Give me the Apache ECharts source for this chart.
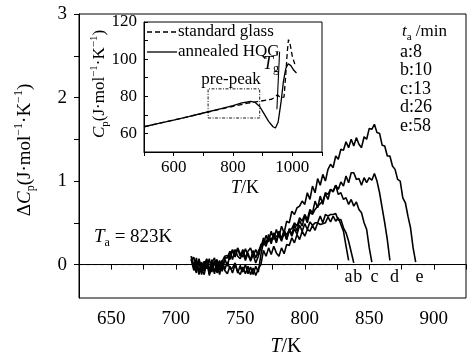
<!DOCTYPE html>
<html><head><meta charset="utf-8">
<script src="https://cdn.jsdelivr.net/npm/echarts@6.0.0/dist/echarts.min.js"></script>
<style>html,body{margin:0;padding:0;background:#fff}#c{width:472px;height:356px}</style>
</head><body><div id="c"></div>
<script>
// ---- main chart data: temperature grid (K) and ΔCp curves (J/mol/K)
const temps = [712,714,716,718,720,722,724,726,728,730,
732,734,736,738,740,742,744,746,748,750,
752,754,756,758,760,762,764,766,768,770,
772,774,776,778,780,782,784,786,788,790,
792,794,796,798,800,802,804,806,808,810,
812,814,816,818,820,822,824,826,828,830,
832,834,836,838,840,842,844,846,848,850,
852,854,856,858,860,862,864,866,868,870,
872,874,876,878,880,882,884,886];
const curveA = [0.1,-0.02,-0.1,0.07,-0.05,-0.12,0.02,-0.08,0.06,-0.09,
0.0,-0.12,0.02,-0.07,-0.11,-0.02,-0.1,0.0,-0.08,-0.12,
-0.03,-0.11,-0.02,-0.12,-0.04,-0.13,-0.05,0.0,0.17,0.1,
0.2,0.12,0.22,0.14,0.1,0.2,0.13,0.24,0.23,0.32,
0.26,0.36,0.3,0.4,0.34,0.42,0.4,0.47,0.41,0.5,
0.48,0.49,0.5,0.57,0.51,0.58,0.52,0.56,0.48,0.4,
0.22,0.05];
const curveB = [0.06,-0.07,0.04,-0.12,0.02,-0.08,0.05,-0.13,-0.02,0.04,
-0.1,0.0,0.05,-0.06,0.03,-0.05,-0.04,0.02,-0.1,-0.01,
-0.09,0.0,-0.11,-0.03,-0.12,-0.02,-0.09,0.12,0.27,0.28,
0.3,0.31,0.33,0.34,0.35,0.28,0.38,0.3,0.41,0.34,
0.43,0.36,0.47,0.4,0.49,0.42,0.51,0.47,0.5,0.5,
0.58,0.5,0.6,0.58,0.6,0.6,0.61,0.53,0.54,0.44,
0.38,0.28,0.15,0.02];
const curveC = [0.04,0.09,-0.06,0.05,-0.1,-0.01,0.07,-0.07,0.04,-0.11,
0.05,-0.02,-0.07,0.08,0.08,0.16,0.06,0.18,0.1,0.07,
0.15,0.05,0.14,0.04,0.12,0.02,0.1,0.2,0.32,0.24,
0.36,0.25,0.38,0.28,0.4,0.31,0.4,0.3,0.43,0.36,
0.48,0.4,0.53,0.46,0.58,0.5,0.63,0.6,0.66,0.7,
0.73,0.76,0.85,0.78,0.9,0.87,0.95,0.84,0.86,0.78,
0.8,0.72,0.78,0.7,0.75,0.66,0.62,0.5,0.42,0.2,
0.03];
const curveD = [0.1,-0.02,-0.08,0.06,-0.12,0.04,-0.05,0.07,-0.09,0.02,
0.06,-0.07,0.04,0.1,0.11,0.06,0.17,0.09,0.19,0.1,
0.18,0.08,0.16,0.2,0.1,0.18,0.11,0.24,0.26,0.22,
0.33,0.28,0.35,0.26,0.38,0.3,0.41,0.35,0.42,0.43,
0.5,0.46,0.56,0.52,0.6,0.54,0.66,0.62,0.76,0.68,
0.82,0.72,0.86,0.84,0.9,0.88,0.95,0.9,0.99,0.94,
1.06,0.98,1.1,1.1,1.02,1.03,0.95,1.04,0.98,1.04,
1.01,1.09,1.0,0.86,0.68,0.5,0.3,0.05];
const curveE = [0.07,-0.04,0.08,-0.09,0.03,-0.07,0.06,-0.11,0.02,0.08,
-0.06,0.05,-0.08,0.07,-0.02,0.12,0.18,0.1,0.2,0.13,
0.09,0.19,0.11,0.06,0.17,0.08,0.16,0.22,0.24,0.35,
0.27,0.4,0.3,0.42,0.33,0.46,0.38,0.52,0.5,0.64,
0.6,0.68,0.7,0.76,0.72,0.86,0.78,0.94,0.86,1.03,
0.95,1.08,1.0,1.14,1.2,1.16,1.3,1.26,1.38,1.37,
1.47,1.4,1.5,1.42,1.52,1.44,1.4,1.53,1.5,1.63,
1.62,1.68,1.58,1.57,1.43,1.42,1.3,1.3,1.18,1.14,
1.02,1.0,0.8,0.74,0.58,0.44,0.2,0.03];
const curveNames = ['a','b','c','d','e'];
const annealMinutes = [8,10,13,26,58];
const curveLabelT = [834,841,854,869.5,889];
const curveLabelV = -0.155;
const zeroLineT = [625,904];
const mainXTicks = [650,700,750,800,850,900];
const mainYLabels = [0,1,2,3];
const mainYTicks = [0,0.5,1,1.5,2,2.5,3];

// ---- inset data: Cp (J/mol/K) vs T (K)
const stdT = [500,550,600,650,700,750,800,850,900,930,940,950,960,972,978,983,987,992,1000,1008,1014];
const stdV = [63.6,65.4,67.2,69.0,70.9,72.8,74.6,76.3,77.6,78.4,79.4,80.8,79.2,79.6,92,104,110.5,108.5,101.5,97.5,98.5];
const annT = [500,550,600,650,700,750,800,830,860,875,890,905,920,935,943,952,962,970,978,986,995,1005,1014];
const annV = [63.6,65.4,67.2,69.0,71.0,73.0,75.0,76.4,77.2,76.7,74.5,70.5,66.5,63.6,62.9,66,77,88,95,97.5,96.5,94,92.5];
const tgMarkT = [948,957];
const tgMarkV = [73,104];
const boxT = [716,890,890,716,716];
const boxV = [68.3,68.3,84,84,68.3];
const insetLegend = ['standard glass','annealed HQG'];

const F = 'Liberation Serif';
const pairs = (xs, ys) => ys.map((v,i)=>[xs[i], v]);

const rich = (fs, sfs) => ({
  n:{fontFamily:F,fontSize:fs,color:'#000'},
  i:{fontFamily:F,fontSize:fs,fontStyle:'italic',color:'#000'},
  sub:{fontFamily:F,fontSize:sfs,color:'#000',verticalAlign:'bottom',lineHeight:sfs,padding:[0,0,-2,0]},
  sup:{fontFamily:F,fontSize:sfs,color:'#000',verticalAlign:'top',lineHeight:sfs,padding:[-3,0,0,0]}
});

const mainLine = (name, vals) => ({
  type:'line', name, xAxisIndex:0, yAxisIndex:0, data:pairs(temps, vals),
  symbol:'none', lineStyle:{color:'#000', width:1.6}, z:3
});

const chart = echarts.init(document.getElementById('c'), null, {renderer:'canvas'});
const option = {
  animation:false,
  backgroundColor:'#fff',
  grid:[
    {left:79, top:14, right:6, bottom:58, show:true, borderColor:'#000', borderWidth:1, backgroundColor:'transparent'},
    {left:144, top:22, right:150, bottom:204, show:true, borderColor:'#000', borderWidth:1, backgroundColor:'#fff'}
  ],
  xAxis:[
    {gridIndex:0, type:'value', min:625, max:925, interval:25,
     axisLine:{lineStyle:{color:'#000', width:1}}, axisTick:{length:5, lineStyle:{color:'#000'}},
     axisLabel:{formatter:v=> mainXTicks.includes(v)? String(v):'', color:'#000', fontFamily:F, fontSize:19, margin:12},
     splitLine:{show:false}},
    {gridIndex:1, type:'value', min:500, max:1100, interval:100,
     axisLine:{lineStyle:{color:'#000', width:1}}, axisTick:{length:4, lineStyle:{color:'#000'}},
     axisLabel:{formatter:v=> (v%200===0)? String(v):'', color:'#000', fontFamily:F, fontSize:17, margin:7},
     splitLine:{show:false}}
  ],
  yAxis:[
    {gridIndex:0, type:'value', min:-0.4, max:3,
     axisLine:{show:true, lineStyle:{color:'#000', width:1}},
     axisTick:{show:true, length:5, lineStyle:{color:'#000'}, customValues:mainYTicks},
     axisLabel:{color:'#000', fontFamily:F, fontSize:19, margin:12, customValues:mainYLabels},
     splitLine:{show:false}},
    {gridIndex:1, type:'value', min:50, max:120, interval:10,
     axisLine:{show:true, lineStyle:{color:'#000', width:1}},
     axisTick:{show:true, inside:true, length:4, lineStyle:{color:'#000'}},
     axisLabel:{formatter:v=> (v%20===0)? String(v):'', color:'#000', fontFamily:F, fontSize:17, margin:7},
     splitLine:{show:false}}
  ],
  series:[
    {type:'line', name:'zero', xAxisIndex:0, yAxisIndex:0, data:zeroLineT.map(t=>[t,0]), symbol:'none',
     lineStyle:{color:'#000', width:1, type:[4,3]}, z:2},
    mainLine('a', curveA), mainLine('b', curveB), mainLine('c', curveC), mainLine('d', curveD), mainLine('e', curveE),
    {type:'scatter', name:'labels', xAxisIndex:0, yAxisIndex:0, data:curveLabelT.map(t=>[t,curveLabelV]),
     symbolSize:0, itemStyle:{color:'#000', opacity:1}, z:6, silent:true,
     label:{show:true, position:'inside', formatter:p=>curveNames[p.dataIndex], color:'#000', opacity:1,
            textBorderWidth:0, fontFamily:F, fontSize:18}},
    {type:'line', name:insetLegend[0], xAxisIndex:1, yAxisIndex:1, data:pairs(stdT, stdV), symbol:'none',
     lineStyle:{color:'#000', width:1.3, type:[5,3]}, z:5},
    {type:'line', name:insetLegend[1], xAxisIndex:1, yAxisIndex:1, data:pairs(annT, annV), symbol:'none',
     lineStyle:{color:'#000', width:1.3}, z:5},
    {type:'line', name:'Tg marker', xAxisIndex:1, yAxisIndex:1, data:pairs(tgMarkT, tgMarkV), symbol:'none',
     lineStyle:{color:'#000', width:1.1}, z:5},
    {type:'line', name:'pre-peak box', xAxisIndex:1, yAxisIndex:1, data:pairs(boxT, boxV), symbol:'none',
     lineStyle:{color:'#000', width:0.9, type:[3,1.5,1,1.5]}, z:5}
  ],
  graphic:[
    {type:'line', z:10, shape:{x1:147,y1:32,x2:177,y2:32}, style:{stroke:'#000', lineWidth:1.3, lineDash:[5,3]}},
    {type:'text', x:178, y:32, z:10, style:{text:insetLegend[0], font:'17px "Liberation Serif"', fill:'#000', align:'left', verticalAlign:'middle'}},
    {type:'line', z:10, shape:{x1:147,y1:52,x2:177,y2:52}, style:{stroke:'#000', lineWidth:1.3}},
    {type:'text', x:178, y:52, z:10, style:{text:insetLegend[1], font:'17px "Liberation Serif"', fill:'#000', align:'left', verticalAlign:'middle'}},
    {type:'text', x:25, y:150, rotation:Math.PI/2, z:10,
     style:{text:'{n|Δ}{i|C}{sub|p}{n|(J·mol}{sup|−1}{n|·K}{sup|−1}{n|)}', rich:rich(19,12), align:'center', verticalAlign:'middle'}},
    {type:'text', x:286, y:347, z:10,
     style:{text:'{i|T}{n|/K}', rich:rich(20,12), align:'center', verticalAlign:'middle'}},
    {type:'text', x:100, y:84, rotation:Math.PI/2, z:10,
     style:{text:'{i|C}{sub|p}{n|(J·mol}{sup|−1}{n|·K}{sup|−1}{n|)}', rich:rich(17,11), align:'center', verticalAlign:'middle'}},
    {type:'text', x:245, y:188, z:10,
     style:{text:'{i|T}{n|/K}', rich:rich(18,11), align:'center', verticalAlign:'middle'}},
    {type:'text', x:231, y:80, z:10,
     style:{text:'pre-peak', font:'17px "Liberation Serif"', fill:'#000', align:'center', verticalAlign:'middle'}},
    {type:'text', x:263, y:64, z:10,
     style:{text:'{i|T}{sub|g}', rich:rich(18,12), align:'left', verticalAlign:'middle'}},
    {type:'text', x:94, y:237, z:10,
     style:{text:'{i|T}{sub|a}{n| = 823K}', rich:rich(19,12), align:'left', verticalAlign:'middle'}},
    {type:'text', x:402, y:32, z:10,
     style:{text:'{i|t}{sub|a}{n| /min}', rich:rich(17,11), align:'left', verticalAlign:'middle'}},
    ...curveNames.map((n,i)=>({type:'text', x:400, y:52+18.5*i, z:10,
     style:{text:n+':'+annealMinutes[i], font:'18px "Liberation Serif"', fill:'#000', align:'left', verticalAlign:'middle'}}))
  ]
};
chart.setOption(option);
</script>
</body></html>
